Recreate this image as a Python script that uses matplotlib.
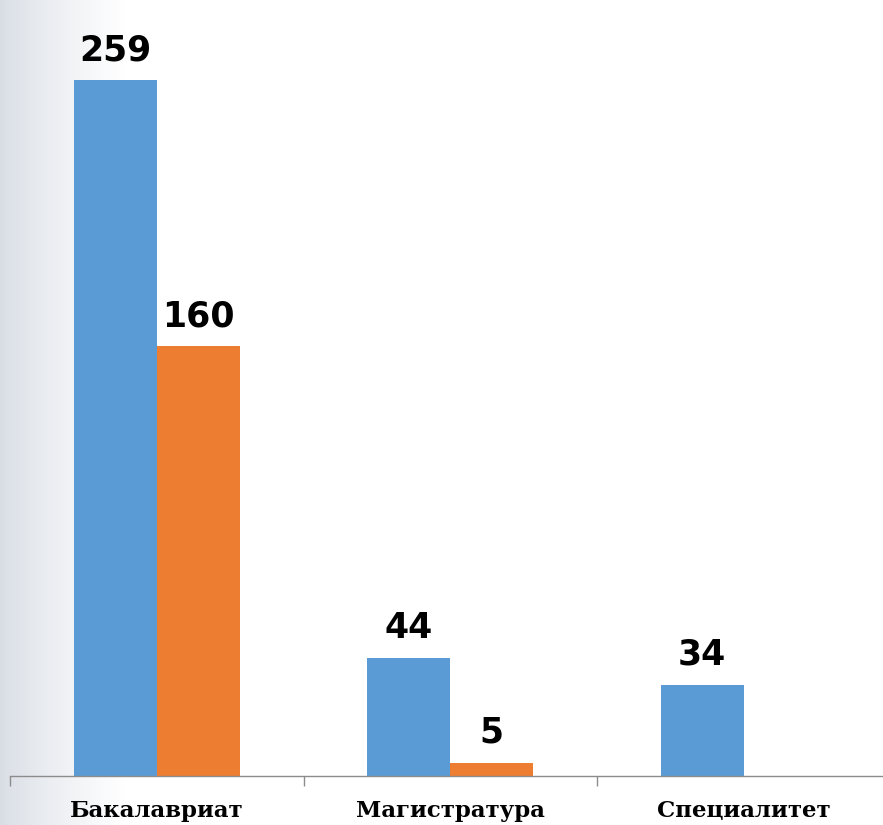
import matplotlib.pyplot as plt
import numpy as np

# data
categories = ['Бакалавриат', 'Магистратура', 'Специалитет']
series_a = [259, 44, 34]
series_b = [160, 5, None]

blue = '#5B9BD5'
orange = '#ED7D31'

fig = plt.figure(figsize=(8.83, 8.25), dpi=100)

# soft grey backdrop on the left edge
bg = fig.add_axes([0, 0, 1, 1], zorder=0)
grad = np.linspace(0, 1, 300)
fade = np.clip(grad / 0.14, 0, 1) ** 0.8
img = np.ones((2, 300, 3))
for i, c in enumerate((0.85, 0.87, 0.90)):
    img[:, :, i] = c + (1 - c) * fade
bg.imshow(img, aspect='auto', extent=[0, 1, 0, 1])
bg.set_axis_off()

ax = fig.add_axes([10 / 883, 49 / 825, 880.5 / 883, 776 / 825], zorder=1)
ax.patch.set_alpha(0)

x = np.arange(len(categories))
w = 0.283

bars_a = ax.bar(x - w / 2, series_a, w, color=blue)
vals_b = [v if v is not None else 0 for v in series_b]
bars_b = ax.bar(x + w / 2, vals_b, w, color=orange)

# value labels
for bars, vals in ((bars_a, series_a), (bars_b, series_b)):
    for b, v in zip(bars, vals):
        if v is None:
            continue
        ax.annotate(str(v), (b.get_x() + b.get_width() / 2, v), xytext=(0, 14.4),
                    textcoords='offset points', ha='center', va='baseline',
                    fontsize=25, fontweight='heavy', family='DejaVu Sans')

ax.set_xlim(-0.5, 2.5)
ax.set_ylim(0, 288.8)
ax.set_yticks([])
for s in ['top', 'right', 'left']:
    ax.spines[s].set_visible(False)
ax.spines['bottom'].set_color('#8c8c8c')
ax.spines['bottom'].set_linewidth(1)

ax.set_xticks([-0.5, 0.5, 1.5, 2.5])
ax.set_xticklabels([])
ax.tick_params(axis='x', length=7, color='#8c8c8c', width=1)
ax.set_xticks(x, minor=True)
ax.set_xticklabels(categories, minor=True, fontsize=16.5, fontweight='bold',
                   family='DejaVu Serif')
ax.tick_params(axis='x', which='minor', length=0, pad=17)

fig.savefig('out.png', dpi=100)
